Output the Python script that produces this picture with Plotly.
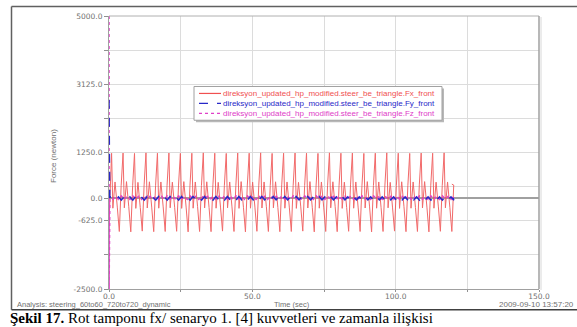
import plotly.graph_objects as go

# ---------------- data ----------------
series_names = [
    "direksyon_updated_hp_modified.steer_be_triangle.Fx_front",
    "direksyon_updated_hp_modified.steer_be_triangle.Fy_front",
    "direksyon_updated_hp_modified.steer_be_triangle.Fz_front",
]
# times of the 30 tall Fx peaks (s)
fx_peak_time = [0.9, 4.9, 8.9, 12.9, 16.9, 20.9, 24.9, 28.9, 32.9, 36.9,
                40.9, 44.9, 48.9, 52.9, 56.9, 60.9, 64.9, 68.9, 72.9, 76.9,
                80.9, 84.9, 88.9, 92.9, 96.9, 100.9, 104.9, 108.9, 112.9, 116.9]
# extrema of every Fx cycle (N)
fx_peak = [1230, 1235, 1225, 1240, 1230, 1235, 1225, 1230, 1240, 1230,
           1225, 1235, 1230, 1240, 1225, 1230, 1235, 1230, 1225, 1240,
           1230, 1235, 1225, 1230, 1240, 1230, 1225, 1235, 1230, 1240]
fx_valley = [-280, -270, -285, -275, -280, -270, -285, -280, -275, -280,
             -270, -285, -280, -275, -270, -280, -285, -275, -280, -270,
             -285, -280, -275, -280, -270, -285, -280, -275, -280, -270]
fx_bump = [440, 450, 430, 445, 440, 435, 450, 440, 445, 430,
           440, 450, 435, 440, 445, 440, 430, 450, 440, 445,
           435, 440, 450, 440, 430, 445, 440, 450, 435, 440]
fx_dip = [-250, -240, -260, -250, -245, -255, -250, -240, -260, -250,
          -245, -255, -250, -240, -260, -250, -245, -255, -250, -240,
          -260, -250, -245, -255, -250, -240, -260, -250, -245, -255]
fx_trough = [-920, -930, -910, -925, -920, -915, -930, -920, -925, -910,
             -920, -930, -915, -920, -925, -920, -910, -930, -920, -925,
             -915, -920, -930, -920, -910, -925, -920, -930, -915, -920]
fx_rise = [350, 340, 360, 350, 345, 355, 350, 340, 360, 350,
           345, 355, 350, 340, 360, 350, 345, 355, 350, 340,
           360, 350, 345, 355, 350, 340, 360, 350, 345, 355]
# offsets of the extrema after each tall peak (s)
fx_offsets = [0.0, 0.45, 1.2, 2.0, 2.7, 3.35]
fx_start = [(0.0, -700.0)]
fx_end = [(119.6, 380.0)]

# Fy / Fz: start spikes, then small wiggles around zero once per cycle
fy_start = [(0.0, 2700.0), (0.25, 20.0)]
fz_start = [(0.0, 5000.0), (0.04, -2500.0), (0.3, -10.0)]
fy_wiggle = [40, -50, 30, -60]
fz_wiggle = [-30, 45, -40, 55]
wiggle_offsets = [0.4, 1.4, 2.4, 3.4]
small_end_time = 120.0

# ---------------- build series ----------------
fx_t = [p[0] for p in fx_start]
fx_v = [p[1] for p in fx_start]
for k, tp in enumerate(fx_peak_time):
    vals = [fx_peak[k], fx_valley[k], fx_bump[k], fx_dip[k], fx_trough[k], fx_rise[k]]
    for off, v in zip(fx_offsets, vals):
        fx_t.append(tp + off)
        fx_v.append(v)
fx_t += [p[0] for p in fx_end]
fx_v += [p[1] for p in fx_end]

fy_t = [p[0] for p in fy_start]
fy_v = [p[1] for p in fy_start]
fz_t = [p[0] for p in fz_start]
fz_v = [p[1] for p in fz_start]
for tp in fx_peak_time:
    for off, a, b in zip(wiggle_offsets, fy_wiggle, fz_wiggle):
        fy_t.append(tp + off)
        fy_v.append(a)
        fz_t.append(tp + off)
        fz_v.append(b)
fy_t.append(small_end_time)
fy_v.append(0)
fz_t.append(small_end_time)
fz_v.append(0)

colors = ["#f05050", "#2828c8", "#e040c8"]

fig = go.Figure()
fig.add_trace(go.Scatter(x=fx_t, y=fx_v, mode="lines",
                         line=dict(color=colors[0], width=1), opacity=0.85, showlegend=False))
fig.add_trace(go.Scatter(x=fz_t, y=fz_v, mode="lines",
                         line=dict(color=colors[2], width=1.5, dash="dot"), showlegend=False))
fig.add_trace(go.Scatter(x=fy_t, y=fy_v, mode="lines",
                         line=dict(color=colors[1], width=1.5, dash="dash"), showlegend=False))

# ---------------- layout ----------------
L, R, T, B = 109, 539, 14, 289
W, H = 577, 327
def px(x):
    return (x - L) / (R - L)
def py(y):
    return (B - y) / (B - T)

x_ticks = [0, 25, 50, 75, 100, 125, 150]
x_text = ["0.0", "", "50.0", "", "100.0", "", "150.0"]
y_ticks = [-2500, -1562.5, -625, 0, 312.5, 1250, 2187.5, 3125, 4062.5, 5000]
y_text = ["-2500.0", "", "-625.0", "0.0", "", "1250.0", "", "3125.0", "", "5000.0"]

FONT = "Liberation Sans, Arial"
TICKFONT = "DejaVu Sans"
tick_font = dict(family=TICKFONT, size=7.5, color="#707070")
font_small = dict(family=FONT, size=7.5, color="#707070")

fig.update_layout(
    width=W, height=H,
    margin=dict(l=L, r=W - R, t=T, b=H - B),
    paper_bgcolor="white", plot_bgcolor="white",
    showlegend=False,
    xaxis=dict(range=[0, 150], tickvals=x_ticks, ticktext=x_text,
               showgrid=True, gridcolor="#dcdcdc", gridwidth=1,
               zeroline=False, showline=True, linecolor="#a0a0a0", linewidth=1,
               mirror=False, ticks="outside", ticklen=2, tickcolor="#909090",
               ticklabelstandoff=-2, tickfont=tick_font),
    yaxis=dict(range=[-2500, 5000], tickvals=y_ticks, ticktext=y_text,
               showgrid=True, gridcolor="#dcdcdc", gridwidth=1,
               zeroline=True, zerolinecolor="#a0a0a0", zerolinewidth=1.5,
               showline=True, linecolor="#a0a0a0", linewidth=1,
               ticks="outside", ticklen=4, tickcolor="#909090",
               tickfont=tick_font),
)

shapes = []
# plot frame top / right
shapes.append(dict(type="line", xref="paper", yref="paper", x0=0, x1=1, y0=1, y1=1,
                   line=dict(color="#b0b0b0", width=1)))
shapes.append(dict(type="line", xref="paper", yref="paper", x0=1, x1=1, y0=0, y1=1,
                   line=dict(color="#a0a0a0", width=1.5)))
shapes.append(dict(type="line", xref="paper", yref="paper", x0=px(541), x1=px(541), y0=py(290), y1=py(15),
                   line=dict(color="#d8d8d8", width=1)))
# outer frame
shapes.append(dict(type="line", xref="paper", yref="paper", x0=px(11.5), x1=px(580),
                   y0=py(4.5), y1=py(4.5), line=dict(color="#606060", width=1.5)))
shapes.append(dict(type="line", xref="paper", yref="paper", x0=px(11.5), x1=px(11.5),
                   y0=py(4.5), y1=py(310), line=dict(color="#606060", width=1.5)))
shapes.append(dict(type="line", xref="paper", yref="paper", x0=px(11.5), x1=px(580),
                   y0=py(310), y1=py(310), line=dict(color="#404040", width=1.5)))

# legend box (with shadow)
lx0, lx1, ly0, ly1 = 194, 442, 85, 119
shapes.append(dict(type="rect", xref="paper", yref="paper", x0=px(lx0 + 2), x1=px(lx1 + 2),
                   y0=py(ly0 + 2), y1=py(ly1 + 2), fillcolor="#b8b8b8", line=dict(width=0), layer="above"))
shapes.append(dict(type="rect", xref="paper", yref="paper", x0=px(lx0), x1=px(lx1),
                   y0=py(ly0), y1=py(ly1), fillcolor="white", line=dict(color="#a0a0a0", width=1), layer="above"))
rows = [92, 102, 112]
dashes = ["solid", "dash", "dot"]
annotations = []
for name, c, d, ry in zip(series_names, colors, dashes, rows):
    shapes.append(dict(type="line", xref="paper", yref="paper", x0=px(199), x1=px(221),
                       y0=py(ry), y1=py(ry), line=dict(color=c, width=1.2, dash=d), layer="above"))
    annotations.append(dict(xref="paper", yref="paper", x=px(221), y=py(ry), xanchor="left",
                            yanchor="middle", text=name, showarrow=False,
                            font=dict(family=FONT, size=8, color=c)))

annotations += [
    dict(xref="paper", yref="paper", x=px(54), y=py(155), text="Force (newton)", textangle=-90,
         showarrow=False, font=dict(family=FONT, size=8, color="#707070"),
         xanchor="center", yanchor="middle"),
    dict(xref="paper", yref="paper", x=px(292), y=py(305), text="Time (sec)",
         showarrow=False, font=font_small, xanchor="center", yanchor="middle"),
    dict(xref="paper", yref="paper", x=px(15), y=py(305),
         text="Analysis: steering_60to60_720to720_dynamic",
         showarrow=False, font=font_small, xanchor="left", yanchor="middle"),
    dict(xref="paper", yref="paper", x=px(497), y=py(305), text="2009-09-10 13:57:20",
         showarrow=False, font=dict(family=FONT, size=8, color="#707070"),
         xanchor="left", yanchor="middle"),
    dict(xref="paper", yref="paper", x=px(9), y=py(309.5),
         text="<b>Şekil 17.</b> Rot tamponu fx/ senaryo 1. [4] kuvvetleri ve zamanla ilişkisi",
         showarrow=False, xanchor="left", yanchor="top", borderpad=0,
         font=dict(family="Liberation Serif, Times New Roman", size=15, color="black")),
]

fig.update_layout(shapes=shapes, annotations=annotations)
fig.write_html("out.html")
